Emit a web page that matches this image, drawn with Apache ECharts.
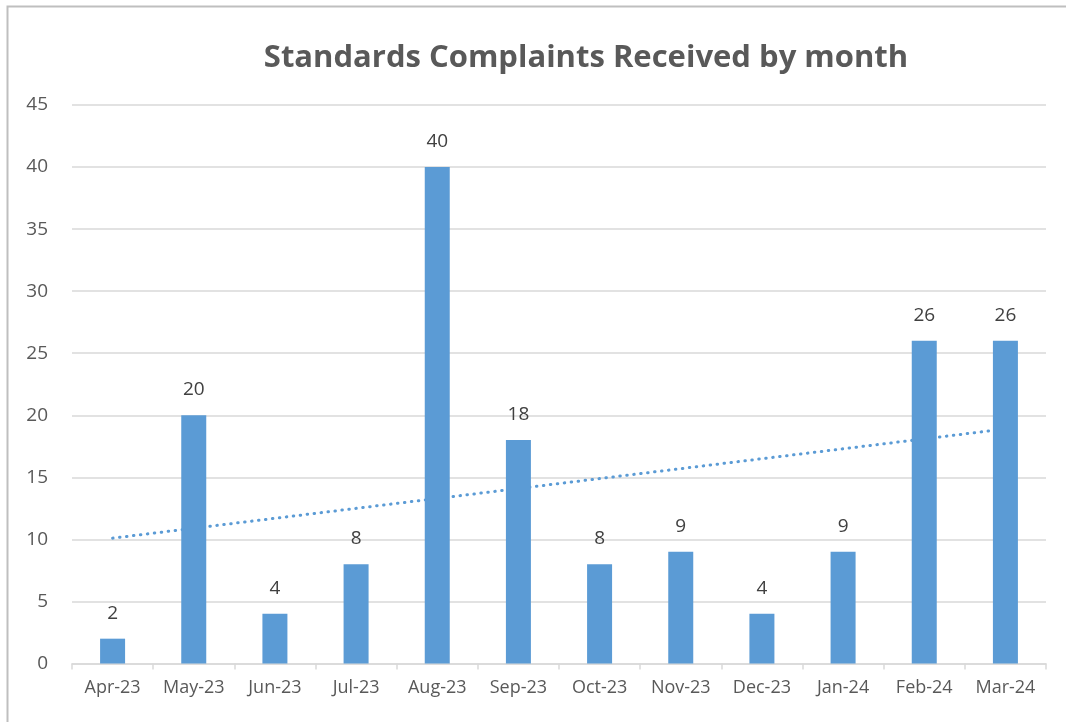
<!DOCTYPE html>
<html><head><meta charset="utf-8">
<script src="https://cdn.jsdelivr.net/npm/echarts@6/dist/echarts.min.js"></script>
<style>html,body{margin:0;padding:0;background:#fff}#c{width:1066px;height:722px}</style>
</head><body><div id="c"></div>
<script>
const categories = ['Apr-23','May-23','Jun-23','Jul-23','Aug-23','Sep-23','Oct-23','Nov-23','Dec-23','Jan-24','Feb-24','Mar-24'];
const complaints = [2,20,4,8,40,18,8,9,4,9,26,26];
// Linear trendline endpoints
const trendStart = 10.1;
const trendEnd = 18.9;
const yTicks = {min:0, max:45, interval:5};

const trendData = categories.map((c,i)=> i===0 ? trendStart : (i===categories.length-1 ? trendEnd : null));
const font = '"Open Sans", "Noto Sans", sans-serif';
const chart = echarts.init(document.getElementById('c'));
chart.setOption({
  animation:false,
  backgroundColor:'#fff',
  title:{text:'Standards Complaints Received by month', left:581, top:38, textAlign:'center',
    textStyle:{fontFamily:font, fontSize:31, fontWeight:'bold', color:'#595959'}},
  graphic:[{type:'rect', shape:{x:7.5,y:6.5,width:1070,height:730}, style:{fill:'none', stroke:'#BFBFBF', lineWidth:2}, silent:true}],
  grid:{left:72, right:20, top:105, bottom:58.5},
  xAxis:{type:'category', data:categories,
    axisLine:{lineStyle:{color:'#D9D9D9', width:1.5}},
    axisTick:{show:true, length:6, lineStyle:{color:'#D9D9D9', width:1.5}},
    axisLabel:{color:'#595959', fontFamily:font, fontSize:18, margin:15, interval:0, hideOverlap:false}},
  yAxis:{type:'value', min:yTicks.min, max:yTicks.max, interval:yTicks.interval,
    axisLine:{show:false}, axisTick:{show:false},
    splitLine:{lineStyle:{color:'#D9D9D9', width:1.5}},
    axisLabel:{color:'#595959', fontFamily:font, fontSize:19, margin:24}},
  series:[
    {type:'line', data:trendData, connectNulls:true, symbol:'none', z:1,
     lineStyle:{color:'#5B9BD5', width:3, type:[0.5,6.5], cap:'round'}},
    {type:'bar', data:complaints, barWidth:25, z:2,
     itemStyle:{color:'#5B9BD5'},
     label:{show:true, position:'top', distance:16, color:'#404040', fontFamily:font, fontSize:19}}
  ]
});
</script></body></html>
